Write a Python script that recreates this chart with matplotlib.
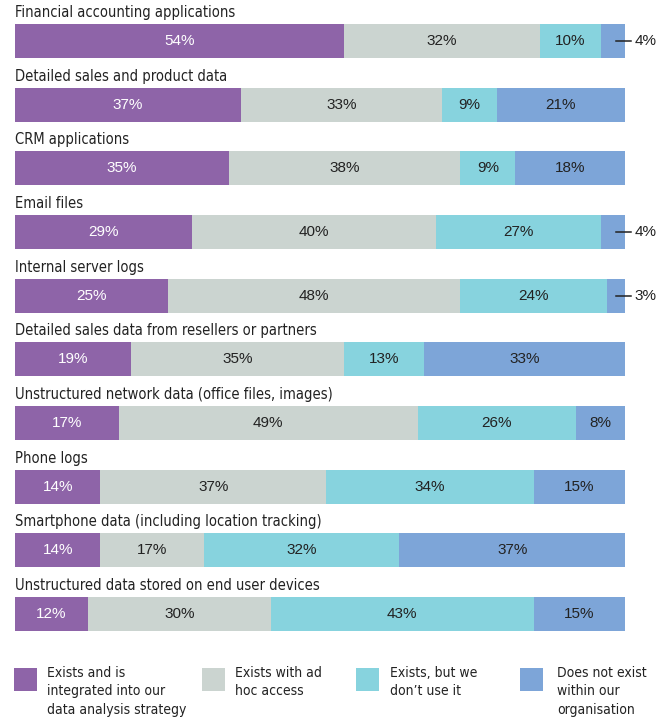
import matplotlib
matplotlib.use("Agg")
import matplotlib.pyplot as plt
from matplotlib.patches import Rectangle

categories = [
    "Financial accounting applications",
    "Detailed sales and product data",
    "CRM applications",
    "Email files",
    "Internal server logs",
    "Detailed sales data from resellers or partners",
    "Unstructured network data (office files, images)",
    "Phone logs",
    "Smartphone data (including location tracking)",
    "Unstructured data stored on end user devices",
]
integrated = [54, 37, 35, 29, 25, 19, 17, 14, 14, 12]
adhoc = [32, 33, 38, 40, 48, 35, 49, 37, 17, 30]
unused = [10, 9, 9, 27, 24, 13, 26, 34, 32, 43]
not_exist = [4, 21, 18, 4, 3, 33, 8, 15, 37, 15]

series_names = [
    "Exists and is\nintegrated into our\ndata analysis strategy",
    "Exists with ad\nhoc access",
    "Exists, but we\ndon\u2019t use it",
    "Does not exist\nwithin our\norganisation",
]
colors = ["#8E64A8", "#CBD4D0", "#87D3DE", "#7DA5D8"]
text_colors = ["white", "#222222", "#222222", "#222222"]

W, H = 668, 722
fig = plt.figure(figsize=(W / 100, H / 100), dpi=100)
ax = fig.add_axes([15 / W, 0, 610 / W, 1])
ax.set_xlim(0, 100)
step = 63.67
ax.set_ylim((H - 41) / step, -41 / step)
ax.axis("off")

cond = dict(family="DejaVu Sans", stretch="condensed")
regular = ["Liberation Sans", "DejaVu Sans"]
bar_h = 34 / step

series = [integrated, adhoc, unused, not_exist]
for i, cat in enumerate(categories):
    left = 0
    for s, vals in enumerate(series):
        v = vals[i]
        ax.barh(i, v, left=left, height=bar_h, color=colors[s], linewidth=0)
        if v >= 8:
            ax.text(left + v / 2, i, f"{v}%", ha="center", va="center",
                    color=text_colors[s], fontsize=11, family=regular)
        else:
            ax.plot([98.5, 101.0], [i, i], color="#222222", lw=1.1, clip_on=False)
            ax.text(101.5, i, f"{v}%", ha="left", va="center",
                    color="#222222", fontsize=11, family=regular)
        left += v
    ax.text(0, i - bar_h / 2 - 7 / step, cat, ha="left", va="baseline",
            color="#222222", fontsize=10.5, **cond)

# legend
sq_x = [14, 202, 356, 520]
tx_x = [47, 235, 390, 557]
for k in range(4):
    fig.add_artist(Rectangle((sq_x[k] / W, 1 - 691 / H), 23 / W, 23 / H,
                             transform=fig.transFigure, color=colors[k], lw=0))
    fig.text(tx_x[k] / W, 1 - 666 / H, series_names[k], ha="left", va="top",
             fontsize=10, color="#222222", linespacing=1.4, **cond)

fig.savefig("out.png", dpi=100)
